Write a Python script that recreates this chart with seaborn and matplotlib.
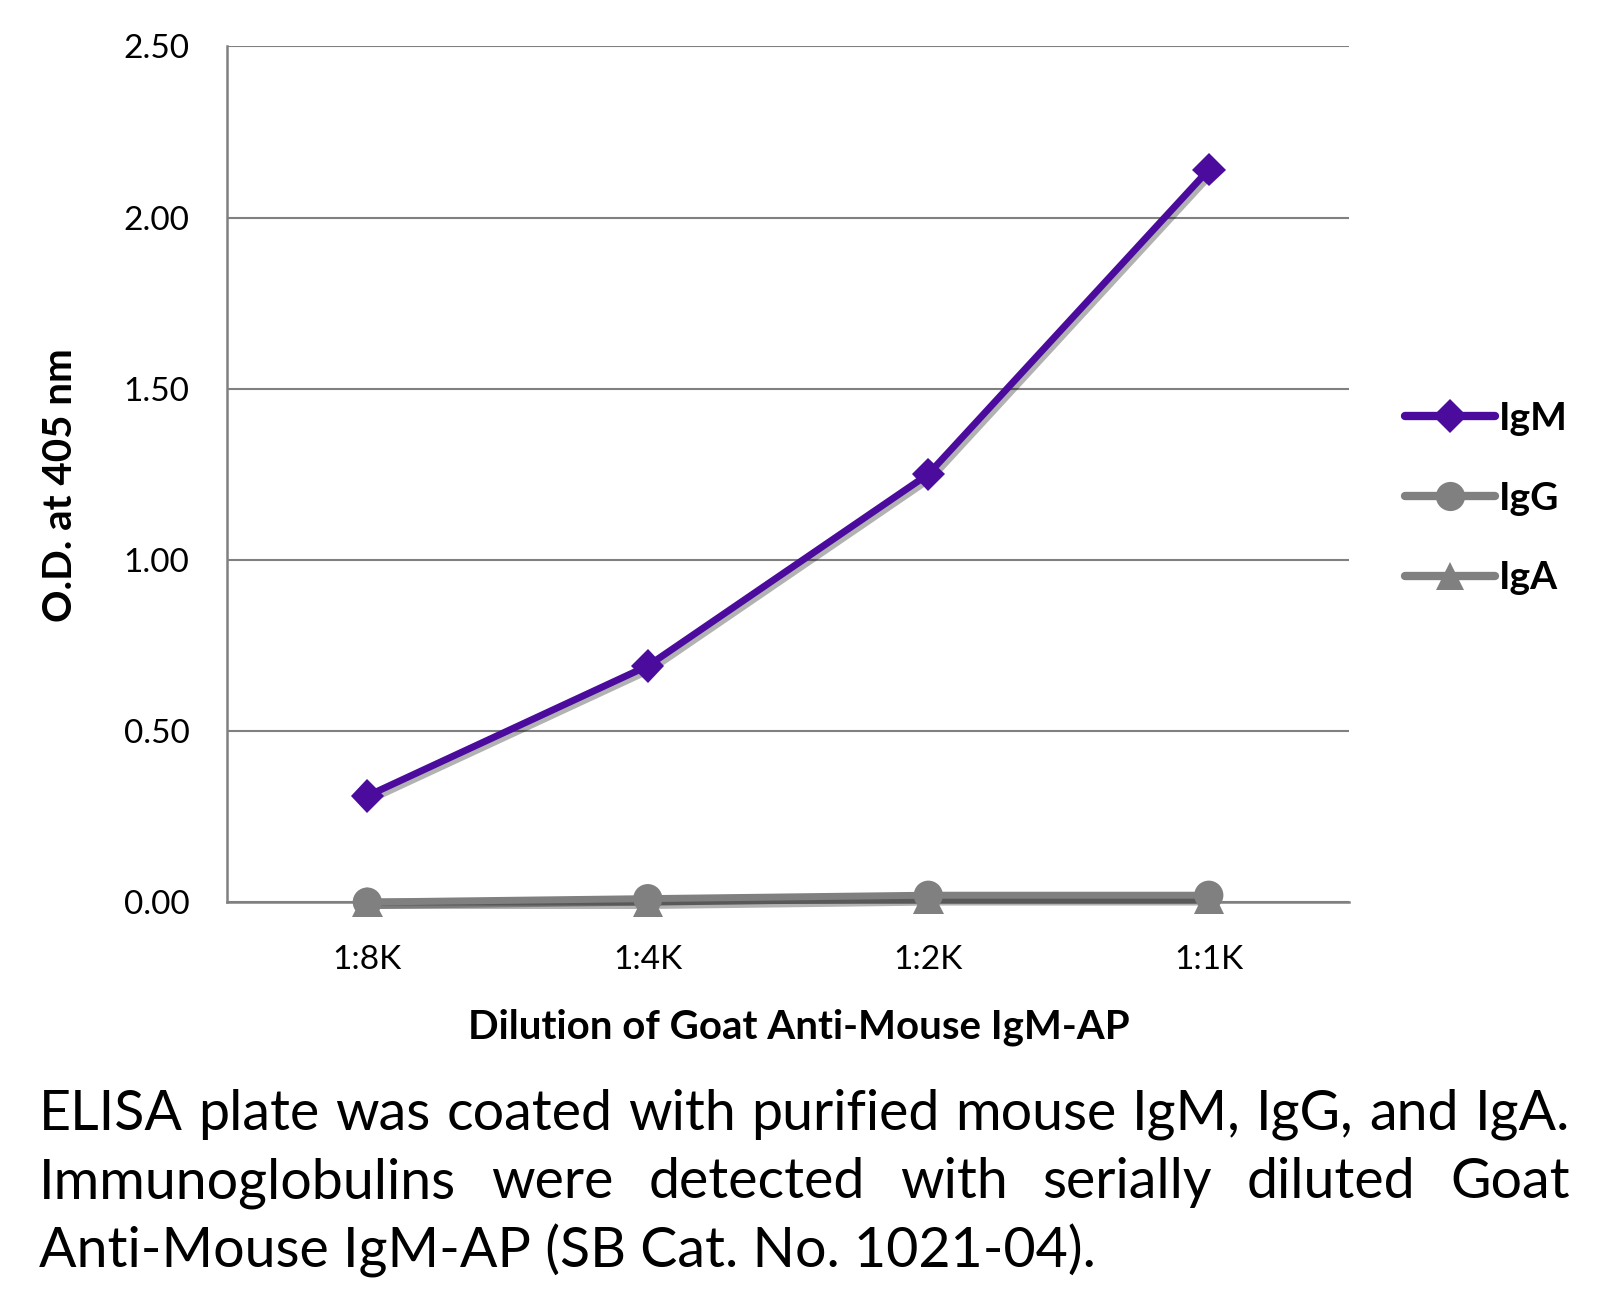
import matplotlib
matplotlib.use("Agg")
import matplotlib.pyplot as plt
import matplotlib.patheffects as pe
from matplotlib.lines import Line2D
import seaborn as sns
import pandas as pd

# data
dilutions = ["1:8K", "1:4K", "1:2K", "1:1K"]
igm = [0.31, 0.69, 1.25, 2.14]
igg = [0.00, 0.01, 0.02, 0.02]
iga = [0.00, 0.00, 0.01, 0.01]
y_ticks = [0.0, 0.5, 1.0, 1.5, 2.0, 2.5]

caption_lines = [
    "ELISA plate was coated with purified mouse IgM, IgG, and IgA.",
    "Immunoglobulins were detected with serially diluted Goat",
    "Anti-Mouse IgM-AP (SB Cat. No. 1021-04).",
]

purple = "#4b0b9c"
grey = "#808080"

sns.set_style("white")
plt.rcParams['font.family'] = ['Lato', 'DejaVu Sans']
plt.rcParams['text.color'] = 'black'
plt.rcParams['xtick.color'] = 'black'
plt.rcParams['ytick.color'] = 'black'
plt.rcParams['axes.labelcolor'] = 'black'

df = pd.DataFrame({
    "dilution": dilutions * 3,
    "od": igm + igg + iga,
    "ab": ["IgM"] * 4 + ["IgG"] * 4 + ["IgA"] * 4,
})

fig = plt.figure(figsize=(16.17, 13.06), dpi=100)
ax = fig.add_axes([0.1404, 0.3093, 0.6939, 0.6552])

shadow = [pe.SimpleLineShadow(offset=(2.5, -2.5), shadow_color='k', alpha=0.3), pe.Normal()]
styles = {"IgM": (purple, "D", 17), "IgG": (grey, "o", 21), "IgA": (grey, "^", 22)}
# IgA first, IgG circles on top; the triangles peek out below like the reference
for name in ["IgA", "IgG", "IgM"]:
    col, mk, ms = styles[name]
    sub = df[df["ab"] == name]
    sns.lineplot(data=sub, x="dilution", y="od", sort=False, color=col, marker=mk,
                 markersize=ms, markeredgewidth=0, linewidth=5, ax=ax,
                 path_effects=shadow, zorder=3, clip_on=False)

ax.set_xlim(-0.5, len(dilutions) - 0.5)
ax.set_ylim(0, 2.5)
ax.set_yticks(y_ticks)
ax.set_yticklabels([f"{v:.2f}" for v in y_ticks])
ax.set_xticks(range(len(dilutions)))
ax.set_xticklabels(dilutions)
ax.set_xticks([i - 0.5 for i in range(len(dilutions) + 1)], minor=True)
ax.tick_params(axis='x', which='major', length=0, pad=31, labelsize=24)
ax.tick_params(axis='x', which='minor', length=13, width=1.5, color=grey, direction='out')
ax.tick_params(axis='y', length=13, width=1.5, color=grey, direction='out', pad=14, labelsize=24)
ax.grid(axis='y', color=grey, linewidth=1.5)
ax.grid(axis='x', visible=False)
for s in ["top", "right"]:
    ax.spines[s].set_visible(False)
for s in ["left", "bottom"]:
    ax.spines[s].set_color(grey)
    ax.spines[s].set_linewidth(1.8)
ax.set_axisbelow(True)

ax.set_xlabel("Dilution of Goat Anti-Mouse IgM-AP", fontsize=29, fontweight='bold')
ax.set_ylabel("O.D. at 405 nm", fontsize=29, fontweight='bold')
ax.xaxis.set_label_coords(0.51, -0.124)
ax.yaxis.set_label_coords(-0.132, 0.487)

leg_sizes = {"IgM": 17, "IgG": 21, "IgA": 20}
handles = [Line2D([], [], color=styles[n][0], marker=styles[n][1], markersize=leg_sizes[n],
                  markeredgewidth=0, linewidth=6) for n in ["IgM", "IgG", "IgA"]]
leg = ax.legend(handles, ["IgM", "IgG", "IgA"], loc='center left', bbox_to_anchor=(1.05, 0.472),
                frameon=False, prop={'size': 28, 'weight': 'bold'}, handlelength=2.3,
                handletextpad=0.1, labelspacing=1.15, borderpad=0, borderaxespad=0)

# caption, justified like the original
fs = 40
left, right = 39 / 1617, 1570 / 1617
ys = [1 - 1114 / 1306, 1 - 1183 / 1306, 1 - 1251 / 1306]
r = fig.canvas.get_renderer()
probe = fig.text(0, 0, caption_lines[0], fontsize=fs)
w = probe.get_window_extent(r).width
probe.remove()
fs = min(fs, fs * (right - left) * 1617 / w * 0.995)
for i, line in enumerate(caption_lines):
    if i == len(caption_lines) - 1:
        fig.text(left, ys[i], line, fontsize=fs, va='center', ha='left')
        continue
    words = line.split(" ")
    texts = [fig.text(0, ys[i], wd, fontsize=fs, va='center', ha='left') for wd in words]
    widths = [t.get_window_extent(r).width / 1617 for t in texts]
    gap = (right - left - sum(widths)) / (len(words) - 1)
    x = left
    for t, wd in zip(texts, widths):
        t.set_x(x)
        x += wd + gap

fig.savefig("out.png", dpi=100)
